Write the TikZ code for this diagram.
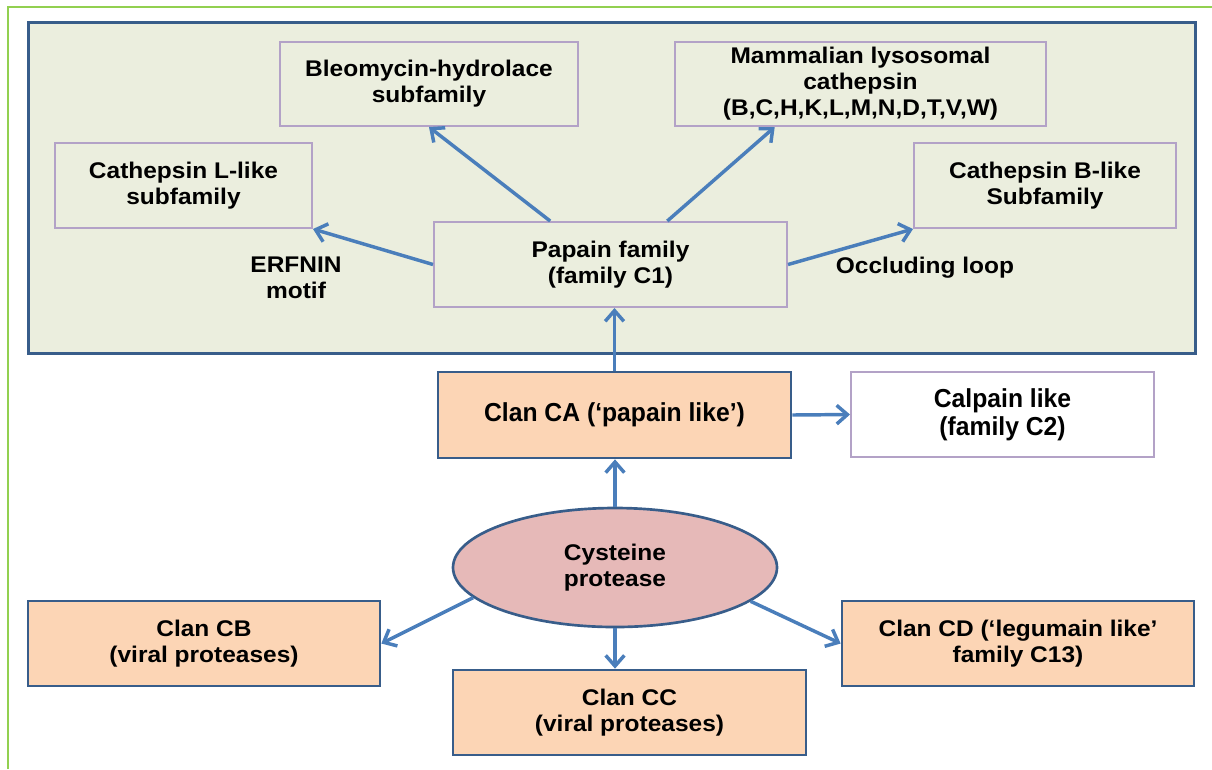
\documentclass[tikz,border=0pt]{standalone}
\usepackage{fontspec}
\setmainfont{Liberation Sans}[FakeStretch=1.08]
\newfontfamily\narrowsf{Liberation Sans}[FakeStretch=0.95]
\usetikzlibrary{arrows.meta,shapes.geometric,calc}

\definecolor{framegreen}{RGB}{146,208,80}
\definecolor{darkblue}{RGB}{56,93,138}
\definecolor{panelfill}{RGB}{235,238,222}
\definecolor{lavender}{RGB}{179,162,199}
\definecolor{clanfill}{RGB}{252,213,181}
\definecolor{cystfill}{RGB}{230,185,184}
\definecolor{arrowblue}{RGB}{74,126,187}

\begin{document}
\begin{tikzpicture}[x=0.75pt, y=-0.75pt,
    font=\fontsize{17}{19.5}\selectfont\bfseries,
    arw/.style={draw=arrowblue, line width=2.6pt, -{Straight Barb[length=8pt,width=14pt]}},
    sub/.style={draw=lavender, line width=1.5pt, align=center, inner sep=0pt},
    clan/.style={draw=darkblue, fill=clanfill, line width=2pt, align=center, inner sep=0pt},
    narrow/.style={font=\narrowsf\fontsize{19.5}{21}\selectfont\bfseries}]
  \useasboundingbox (0,0) rectangle (1212,769);
  % outer frame and papain panel
  \draw[framegreen, line width=1.6pt] (8,769) -- (8,7) -- (1212,7);
  \filldraw[draw=darkblue, fill=panelfill, line width=2.25pt] (28,22) rectangle (1195,353);

  % subfamilies
  \node[sub, minimum width=223.5pt, minimum height=63pt] (bleo) at (429,84)
    {Bleomycin-hydrolace\\subfamily};
  \node[sub, minimum width=278.25pt, minimum height=63pt] (mamm) at (860.5,84)
    {Mammalian lysosomal\\cathepsin\\(B,C,H,K,L,M,N,D,T,V,W)};
  \node[sub, minimum width=192.75pt, minimum height=63.75pt] (catL) at (183.5,185.5)
    {Cathepsin L-like\\subfamily};
  \node[sub, minimum width=196.5pt, minimum height=63.75pt] (catB) at (1045,185.5)
    {Cathepsin B-like\\Subfamily};
  \node[sub, minimum width=264.75pt, minimum height=63.75pt] (papain) at (610.5,264.5)
    {Papain family\\(family C1)};
  \node[align=center] (erfnin) at (296,278) {ERFNIN\\motif};
  \node (occl) at (925,268) {Occluding loop};

  % clans
  \node[clan, narrow, minimum width=264.75pt, minimum height=64.5pt] (clanCA) at (614.5,415)
    {Clan CA (‘papain like’)};
  \node[sub, narrow, fill=white, minimum width=227.25pt, minimum height=63.75pt] (calpain) at (1002.5,414.5)
    {Calpain like\\(family C2)};
  \node[ellipse, draw=darkblue, fill=cystfill, line width=2pt, align=center, inner sep=0pt,
    minimum width=243pt, minimum height=89.25pt] (cyst) at (615,567.5) {Cysteine\\protease};
  \node[clan, minimum width=264pt, minimum height=63.75pt] (clanCB) at (204,643.5)
    {Clan CB\\(viral proteases)};
  \node[clan, minimum width=264.75pt, minimum height=63.75pt] (clanCC) at (629.5,712.5)
    {Clan CC\\(viral proteases)};
  \node[clan, minimum width=264pt, minimum height=63.75pt] (clanCD) at (1018,643.5)
    {Clan CD (‘legumain like’\\family C13)};

  % connectors
  \draw[arw] (papain.west) -- (catL.south east);
  \draw[arw] ($(papain.north west)!0.33!(papain.north east)$) -- (bleo.south);
  \draw[arw] ($(papain.north west)!0.66!(papain.north east)$) -- ($(mamm.south west)!0.27!(mamm.south east)$);
  \draw[arw] (papain.east) -- (catB.south west);
  \draw[arw] (clanCA.north) -- (clanCA.north |- papain.south);
  \draw[arw] (clanCA.east) -- (calpain.west);
  \draw[arw] (cyst.north) -- (cyst.north |- clanCA.south);
  \draw[arw] (cyst.192) -- (clanCB.east);
  \draw[arw] (cyst.south) -- (cyst.south |- clanCC.north);
  \draw[arw] (cyst.-14) -- (clanCD.west);
\end{tikzpicture}
\end{document}
